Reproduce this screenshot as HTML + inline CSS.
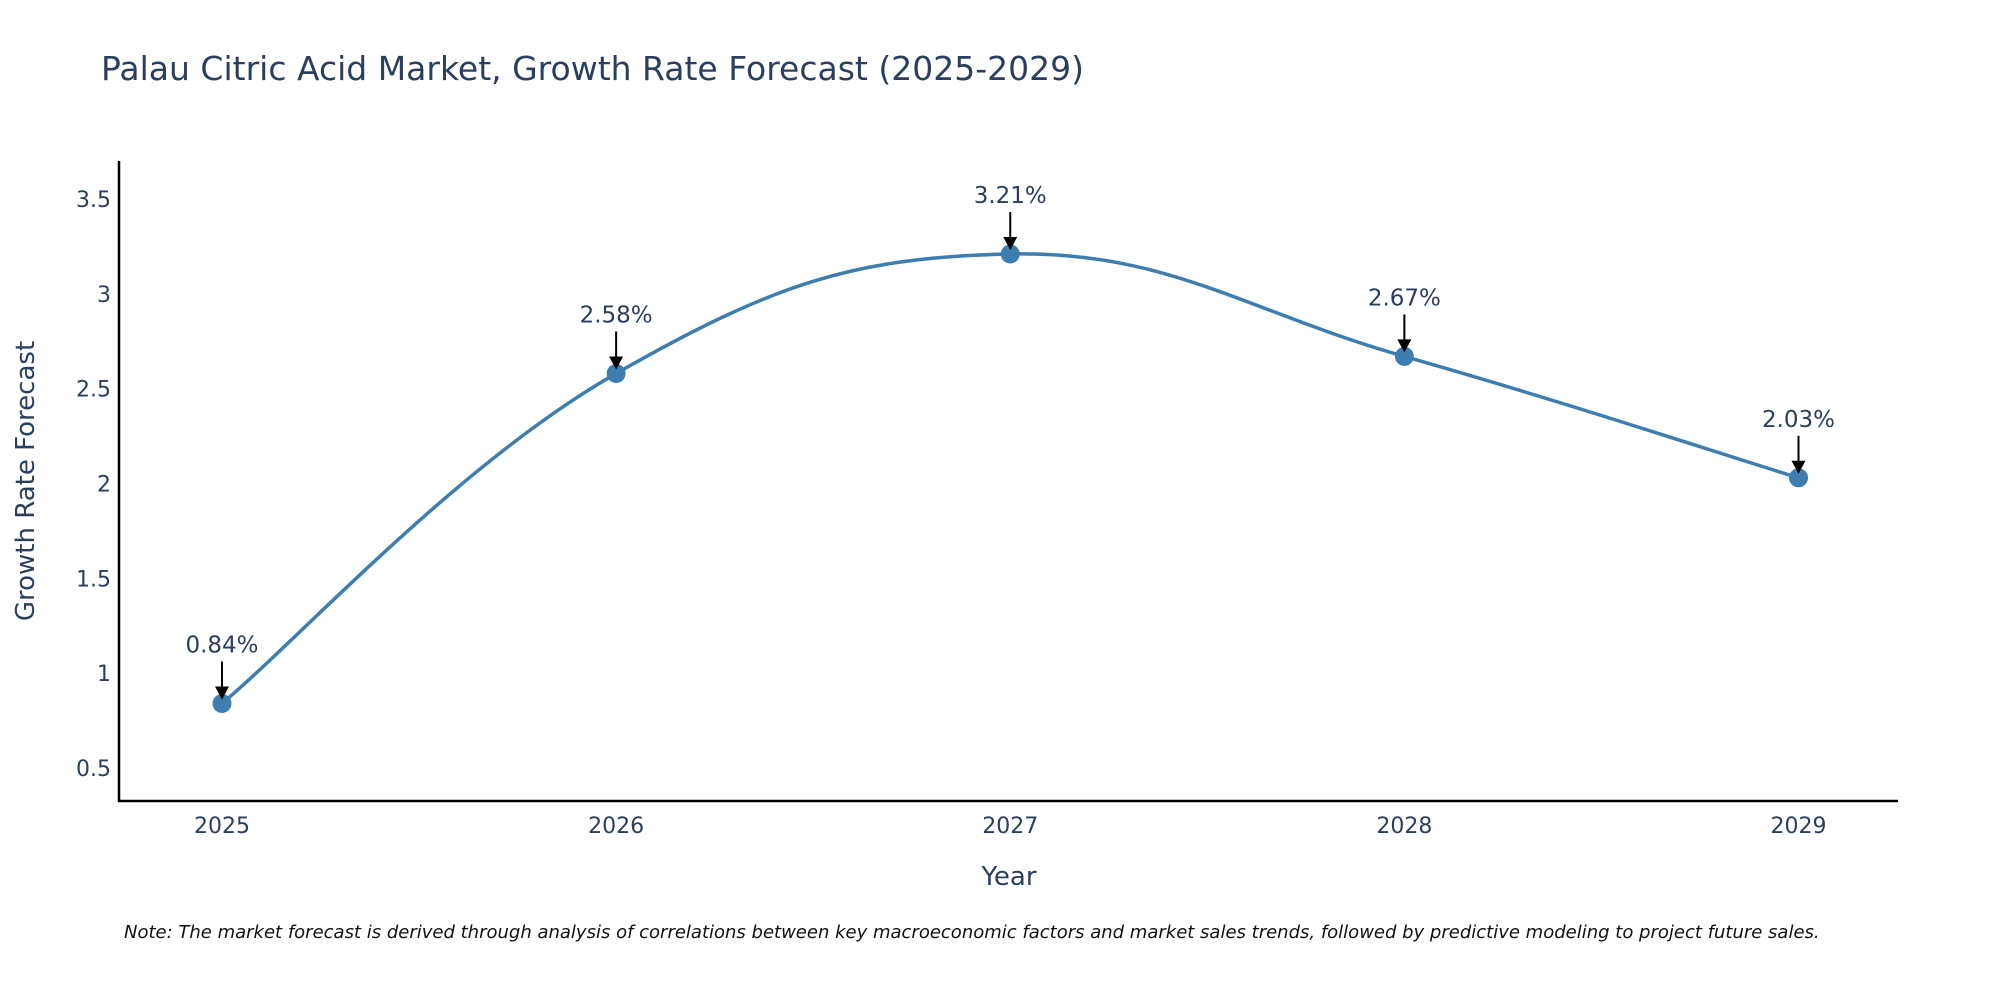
<!DOCTYPE html>
<html><head><meta charset="utf-8"><style>
body{margin:0;background:#fff;}
svg text{font-family:"DejaVu Sans","Liberation Sans",sans-serif;fill:#2a3f5f;}
</style></head><body>
<svg id="chart" width="2000" height="1000" xmlns="http://www.w3.org/2000/svg">
<rect width="2000" height="1000" fill="#fff"/>
<text x="101" y="80" font-size="33">Palau Citric Acid Market, Growth Rate Forecast (2025-2029)</text>
<g id="axes"></g>
<g id="series"></g>
<text x="1009" y="885" font-size="26" text-anchor="middle">Year</text>
<text transform="translate(34,481) rotate(-90)" font-size="26" text-anchor="middle">Growth Rate Forecast</text>
<text x="124" y="938" font-size="18" font-style="italic" style="fill:#111">Note: The market forecast is derived through analysis of correlations between key macroeconomic factors and market sales trends, followed by predictive modeling to project future sales.</text>
</svg>
<script>
const years = ["2025","2026","2027","2028","2029"];
const growth = [0.84, 2.58, 3.21, 2.67, 2.03];
const labels = ["0.84%","2.58%","3.21%","2.67%","2.03%"];
const yTicks = [0.5,1,1.5,2,2.5,3,3.5];
const yTickLabels = ["0.5","1","1.5","2","2.5","3","3.5"];
const NS="http://www.w3.org/2000/svg";
function xS(i){return 222+i*(1798.5-222)/4;}
function yS(v){return 768-(v-0.5)*(768-199)/3;}
function mk(tag,attrs,parent){const e=document.createElementNS(NS,tag);for(const k in attrs)e.setAttribute(k,attrs[k]);parent.appendChild(e);return e;}
const axes=document.getElementById('axes'), ser=document.getElementById('series');
let l=mk('line',{x1:119,y1:161,x2:119,y2:802,stroke:'#000','stroke-width':2.5},axes);


l=mk('line',{x1:118,y1:801,x2:1898,y2:801,stroke:'#000','stroke-width':2.5},axes);


yTicks.forEach((v,i)=>{const t=mk('text',{x:111,y:yS(v)+8,'font-size':22,'text-anchor':'end'},axes);t.textContent=yTickLabels[i];

});
years.forEach((y,i)=>{const t=mk('text',{x:xS(i),y:833,'font-size':22,'text-anchor':'middle'},axes);t.textContent=y;

});
const P=growth.map((v,i)=>[xS(i),yS(v)]);
let d='M'+P[0][0]+','+P[0][1];
const s=0.6;
for(let i=0;i<P.length-1;i++){const p0=P[Math.max(0,i-1)],p1=P[i],p2=P[i+1],p3=P[Math.min(P.length-1,i+2)];
const c1=[p1[0]+(p2[0]-p0[0])*s/3,p1[1]+(p2[1]-p0[1])*s/3];
const c2=[p2[0]-(p3[0]-p1[0])*s/3,p2[1]-(p3[1]-p1[1])*s/3];
d+=' C'+c1+' '+c2+' '+p2;}
const path=mk('path',{d:d,fill:'none',stroke:'#3d7db0','stroke-width':3.5},ser);


growth.forEach((v,i)=>{const cx=xS(i),cy=yS(v);
const c=mk('circle',{cx:cx,cy:cy,r:9.5,fill:'#3d7db0'},ser);


const a=mk('line',{x1:cx,y1:cy-42,x2:cx,y2:cy-14,stroke:'#000','stroke-width':2},ser);


const h=mk('polygon',{points:`${cx-7},${cy-17} ${cx+7},${cy-17} ${cx},${cy-4}`,fill:'#000'},ser);


const t=mk('text',{x:cx,y:cy-51,'font-size':23,'text-anchor':'middle'},ser);t.textContent=labels[i];

});
</script>
</body></html>
